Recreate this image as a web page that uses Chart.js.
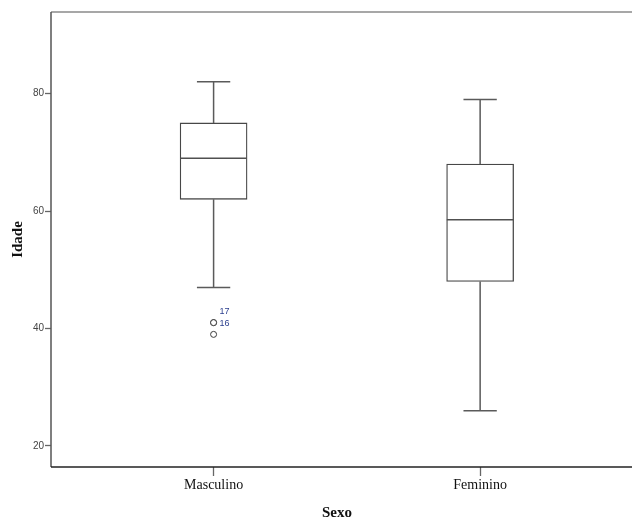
<!DOCTYPE html>
<html>
<head>
<meta charset="utf-8">
<title>Idade por Sexo</title>
<script src="https://cdn.jsdelivr.net/npm/chart.js@4.4.1/dist/chart.umd.min.js"></script>
<style>
  html, body { margin: 0; padding: 0; background: #ffffff; }
  canvas { display: block; }
</style>
</head>
<body>
<canvas id="chart" width="632" height="521"></canvas>
<script>
// Boxplot summary of age (Idade) by sex (Sexo)
const categories = ['Masculino', 'Feminino'];
const whiskerLow = [47, 26];
const q1 = [62, 48];
const median = [69, 58.5];
const q3 = [75, 68];
const whiskerHigh = [82, 79];

// Outlying cases: value, category index, case number
const outlierValues = [41, 41, 39];
const outlierCategory = [0, 0, 0];
const outlierCases = ['16', '17', ''];

const yTicks = [20, 40, 60, 80];

const BOX_HALF = 0.125;   // half box width in category units
const CAP_HALF = 0.0625;  // half whisker-cap width

const catPos = categories.map((_, i) => i + 1);

// box bodies as floating bars
const boxData = categories.map((_, i) => ({ x: catPos[i], y: [q1[i], q3[i]] }));

// whisker stems and caps, segments separated by gaps
const whiskerData = [];
categories.forEach((_, i) => {
  const c = catPos[i];
  whiskerData.push({ x: c, y: q3[i] }, { x: c, y: whiskerHigh[i] }, { x: c, y: null });
  whiskerData.push({ x: c - CAP_HALF, y: whiskerHigh[i] }, { x: c + CAP_HALF, y: whiskerHigh[i] }, { x: c, y: null });
  whiskerData.push({ x: c, y: q1[i] }, { x: c, y: whiskerLow[i] }, { x: c, y: null });
  whiskerData.push({ x: c - CAP_HALF, y: whiskerLow[i] }, { x: c + CAP_HALF, y: whiskerLow[i] }, { x: c, y: null });
});

const medianData = [];
categories.forEach((_, i) => {
  const c = catPos[i];
  medianData.push({ x: c - BOX_HALF, y: median[i] }, { x: c + BOX_HALF, y: median[i] }, { x: c, y: null });
});

const outlierData = outlierValues.map((v, k) => ({ x: catPos[outlierCategory[k]], y: v }));

// Frame: left, top and bottom rules of the plot region
const framePlugin = {
  id: 'frame',
  afterDraw(chart) {
    const { ctx, chartArea: a, width } = chart;
    ctx.save();
    ctx.lineWidth = 1.5;
    ctx.strokeStyle = '#8a8a8a';
    ctx.beginPath(); ctx.moveTo(a.left, a.top); ctx.lineTo(width, a.top); ctx.stroke();
    ctx.strokeStyle = '#555555';
    ctx.beginPath(); ctx.moveTo(a.left, a.top); ctx.lineTo(a.left, a.bottom); ctx.stroke();
    ctx.strokeStyle = '#222222';
    ctx.beginPath(); ctx.moveTo(a.left, a.bottom); ctx.lineTo(width, a.bottom); ctx.stroke();
    ctx.restore();
  }
};

// Case-number labels beside outlying points
const caseLabelPlugin = {
  id: 'caseLabels',
  afterDatasetsDraw(chart) {
    const idx = chart.data.datasets.findIndex(d => d.id === 'outliers');
    const meta = chart.getDatasetMeta(idx);
    const { ctx } = chart;
    ctx.save();
    ctx.font = '9px "Liberation Sans", Arial, sans-serif';
    ctx.fillStyle = '#2b3f8e';
    ctx.textBaseline = 'middle';
    ctx.textAlign = 'left';
    const stacks = {};
    meta.data.forEach((el, k) => {
      const label = outlierCases[k];
      if (!label) return;
      const key = outlierCategory[k] + ':' + outlierValues[k];
      const n = stacks[key] || 0;
      stacks[key] = n + 1;
      ctx.fillText(label, el.x + 6, el.y + 1 - n * 12);
    });
    ctx.restore();
  }
};

new Chart(document.getElementById('chart'), {
  type: 'bar',
  data: {
    datasets: [
      {
        type: 'bar',
        data: boxData,
        backgroundColor: '#ffffff',
        borderColor: '#474747',
        borderWidth: 1.3,
        borderSkipped: false,
        barThickness: 67,
        order: 3
      },
      {
        type: 'line',
        data: whiskerData,
        borderColor: '#5a5a5a',
        borderWidth: 1.5,
        pointRadius: 0,
        spanGaps: false,
        fill: false,
        order: 2
      },
      {
        type: 'line',
        data: medianData,
        borderColor: '#505050',
        borderWidth: 1.5,
        pointRadius: 0,
        spanGaps: false,
        fill: false,
        order: 1
      },
      {
        id: 'outliers',
        type: 'scatter',
        data: outlierData,
        pointStyle: 'circle',
        pointRadius: 3,
        pointBorderWidth: 1,
        pointBorderColor: '#3a3a3a',
        pointBackgroundColor: '#ffffff',
        order: 0
      }
    ]
  },
  options: {
    responsive: false,
    animation: false,
    events: [],
    layout: { padding: { top: 12, right: 9, bottom: 0, left: 0 } },
    plugins: {
      legend: { display: false },
      tooltip: { enabled: false }
    },
    scales: {
      x: {
        type: 'linear',
        min: 0.39,
        max: 2.536,
        offset: false,
        afterBuildTicks(scale) { scale.ticks = catPos.map(v => ({ value: v })); },
        afterFit(scale) { scale.height = 54; },
        border: { display: false },
        grid: { offset: false, drawOnChartArea: false, drawTicks: true, tickLength: 9, tickColor: '#666666', tickWidth: 1.3 },
        ticks: {
          autoSkip: false,
          maxRotation: 0,
          padding: 1,
          color: '#111111',
          font: { family: '"Liberation Serif", "Times New Roman", serif', size: 14 },
          callback: (v) => categories[Math.round(v) - 1] || ''
        },
        title: {
          display: true,
          text: 'Sexo',
          color: '#111111',
          padding: { top: 0, bottom: 0 },
          font: { family: '"Liberation Serif", "Times New Roman", serif', size: 15, weight: 'bold', lineHeight: 1.1 }
        }
      },
      y: {
        type: 'linear',
        min: 16.42,
        max: 93.89,
        afterBuildTicks(scale) { scale.ticks = yTicks.map(v => ({ value: v })); },
        afterFit(scale) { scale.width = 51; },
        border: { display: false },
        grid: { drawOnChartArea: false, drawTicks: true, tickLength: 6, tickColor: '#666666', tickWidth: 1.3 },
        ticks: {
          padding: 1,
          color: '#444444',
          font: { family: '"Liberation Sans", Arial, sans-serif', size: 10 }
        },
        title: {
          display: true,
          text: 'Idade',
          color: '#111111',
          padding: { top: 9, bottom: 0 },
          font: { family: '"Liberation Serif", "Times New Roman", serif', size: 15, weight: 'bold', lineHeight: 1.2 }
        }
      }
    }
  },
  plugins: [framePlugin, caseLabelPlugin]
});
</script>
</body>
</html>
